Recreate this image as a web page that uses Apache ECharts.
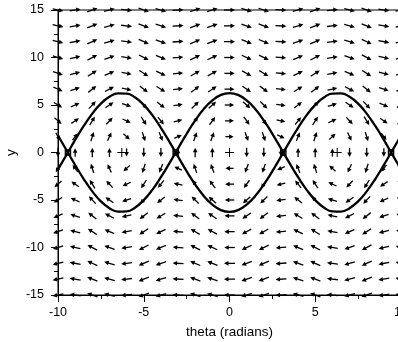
<!DOCTYPE html>
<html><head><meta charset="utf-8">
<script src="https://cdn.jsdelivr.net/npm/echarts@6/dist/echarts.min.js"></script>
<style>html,body{margin:0;padding:0;background:#fff}#c{width:398px;height:342px}</style>
</head><body><div id="c"></div>
<script>
// grid of arrow positions
const thetaGrid = [-10,-9,-8,-7,-6,-5,-4,-3,-2,-1,0,1,2,3,4,5,6,7,8,9,10];
const yGrid = [-15,-13.33,-11.67,-10,-8.33,-6.67,-5,-3.33,-1.67,0,1.67,3.33,5,6.67,8.33,10,11.67,13.33,15];
// theta' component along each row (equals y of the row)
const thetaDotByRow = [-15,-13.33,-11.67,-10,-8.33,-6.67,-5,-3.33,-1.67,0,1.67,3.33,5,6.67,8.33,10,11.67,13.33,15];
// y' component along each column
const yDotByColumn = [-5.34,4.04,9.71,6.45,-2.74,-9.41,-7.42,1.38,8.92,8.25,0,-8.25,-8.92,-1.38,7.42,9.41,2.74,-6.45,-9.71,-4.04,5.34];
// separatrix curves
const sepTheta = [-10,-9.5,-9,-8.5,-8,-7.5,-7,-6.5,-6,-5.5,-5,-4.5,-4,-3.5,-3,-2.5,-2,-1.5,-1,-0.5,0,0.5,1,1.5,2,2.5,3,3.5,4,4.5,5,5.5,6,6.5,7,7.5,8,8.5,9,9.5,10];
const sepA = [1.78,0.24,-1.32,-2.79,-4.09,-5.14,-5.86,-6.22,-6.20,-5.79,-5.01,-3.93,-2.60,-1.12,0.44,1.97,3.38,4.58,5.49,6.07,6.26,6.07,5.49,4.58,3.38,1.97,0.44,-1.12,-2.60,-3.93,-5.01,-5.79,-6.20,-6.22,-5.86,-5.14,-4.09,-2.79,-1.32,0.24,1.78];
const sepB = [-1.78,-0.24,1.32,2.79,4.09,5.14,5.86,6.22,6.20,5.79,5.01,3.93,2.60,1.12,-0.44,-1.97,-3.38,-4.58,-5.49,-6.07,-6.26,-6.07,-5.49,-4.58,-3.38,-1.97,-0.44,1.12,2.60,3.93,5.01,5.79,6.20,6.22,5.86,5.14,4.09,2.79,1.32,-0.24,-1.78];
// equilibria
const centerTheta = [-6.28,0,6.28];
const saddleTheta = [-9.42,-3.14,3.14,9.42];

const field = [];
thetaGrid.forEach((t,i)=>{ yGrid.forEach((y,j)=>{ field.push([t,y,thetaDotByRow[j],yDotByColumn[i]]); }); });

const FONT = '"Liberation Sans", Arial, sans-serif';
const chart = echarts.init(document.getElementById('c'), null, {renderer:'canvas'});

function arrowItem(params, api){
  const p = api.coord([api.value(0), api.value(1)]);
  const s = api.size([1,1]);
  const dx = api.value(2)*s[0], dy = -api.value(3)*s[1];
  const mag = Math.hypot(dx,dy);
  if (mag < 1e-9) return null;
  const ux = dx/mag, uy = dy/mag;
  const L = Math.min(11, 6.5 + 5*Math.sqrt(mag/250));
  const tx = p[0]-ux*L/2, ty = p[1]-uy*L/2;
  const hx = p[0]+ux*L/2, hy = p[1]+uy*L/2;
  const hl = 4.5, hw = 2.3;
  const bx = hx-ux*hl, by = hy-uy*hl;
  return {type:'group', children:[
    {type:'line', shape:{x1:tx,y1:ty,x2:bx+ux*1,y2:by+uy*1}, style:{stroke:'#000', lineWidth:1.3}},
    {type:'polygon', shape:{points:[[hx,hy],[bx-uy*hw,by+ux*hw],[bx+uy*hw,by-ux*hw]]}, style:{fill:'#000'}}
  ]};
}
function plusItem(params, api){
  const p = api.coord([api.value(0), api.value(1)]);
  const r = 4.5;
  return {type:'group', children:[
    {type:'line', shape:{x1:p[0]-r,y1:p[1],x2:p[0]+r,y2:p[1]}, style:{stroke:'#000', lineWidth:1}},
    {type:'line', shape:{x1:p[0],y1:p[1]-r,x2:p[0],y2:p[1]+r}, style:{stroke:'#000', lineWidth:1}}
  ]};
}
function squareItem(params, api){
  const p = api.coord([api.value(0), api.value(1)]);
  const r = 2.5;
  return {type:'rect', shape:{x:p[0]-r,y:p[1]-r,width:2*r,height:2*r}, style:{fill:'none', stroke:'#000', lineWidth:1.5}};
}

const axisCommon = {
  axisLine:{show:true, onZero:false, lineStyle:{color:'#000', width:1}},
  axisTick:{show:true, inside:false, length:7, lineStyle:{color:'#000'}},
  minorTick:{show:true, splitNumber:2, length:4, lineStyle:{color:'#000'}},
  splitLine:{show:false},
  axisLabel:{color:'#000', fontFamily:FONT, fontSize:12.5},
  nameTextStyle:{color:'#000', fontFamily:FONT, fontSize:13.5},
  nameMoveOverlap:false
};

chart.setOption({
  animation:false,
  backgroundColor:'#fff',
  grid:{left:58, top:10, width:343, height:285, outerBoundsMode:'none', containLabel:false, show:true, borderColor:'#000', borderWidth:1, backgroundColor:'transparent'},
  xAxis:Object.assign({type:'value', min:-10, max:10, interval:5, name:'theta (radians)', nameLocation:'middle', nameGap:30}, axisCommon, {axisLabel:Object.assign({}, axisCommon.axisLabel, {margin:11})}),
  yAxis:Object.assign({type:'value', min:-15, max:15, interval:5, name:'y', nameLocation:'middle', nameGap:40}, axisCommon, {axisLabel:Object.assign({}, axisCommon.axisLabel, {margin:14})}),
  series:[
    {type:'custom', renderItem:arrowItem, data:field, clip:false, encode:{x:0,y:1}, z:2},
    {type:'line', data:sepTheta.map((t,i)=>[t,sepA[i]]), smooth:true, symbol:'none', lineStyle:{color:'#000', width:2.3}, z:3},
    {type:'line', data:sepTheta.map((t,i)=>[t,sepB[i]]), smooth:true, symbol:'none', lineStyle:{color:'#000', width:2.3}, z:3},
    {type:'custom', renderItem:plusItem, data:centerTheta.map(t=>[t,0]), encode:{x:0,y:1}, z:4},
    {type:'custom', renderItem:squareItem, data:saddleTheta.map(t=>[t,0]), encode:{x:0,y:1}, z:4}
  ]
});
</script></body></html>
